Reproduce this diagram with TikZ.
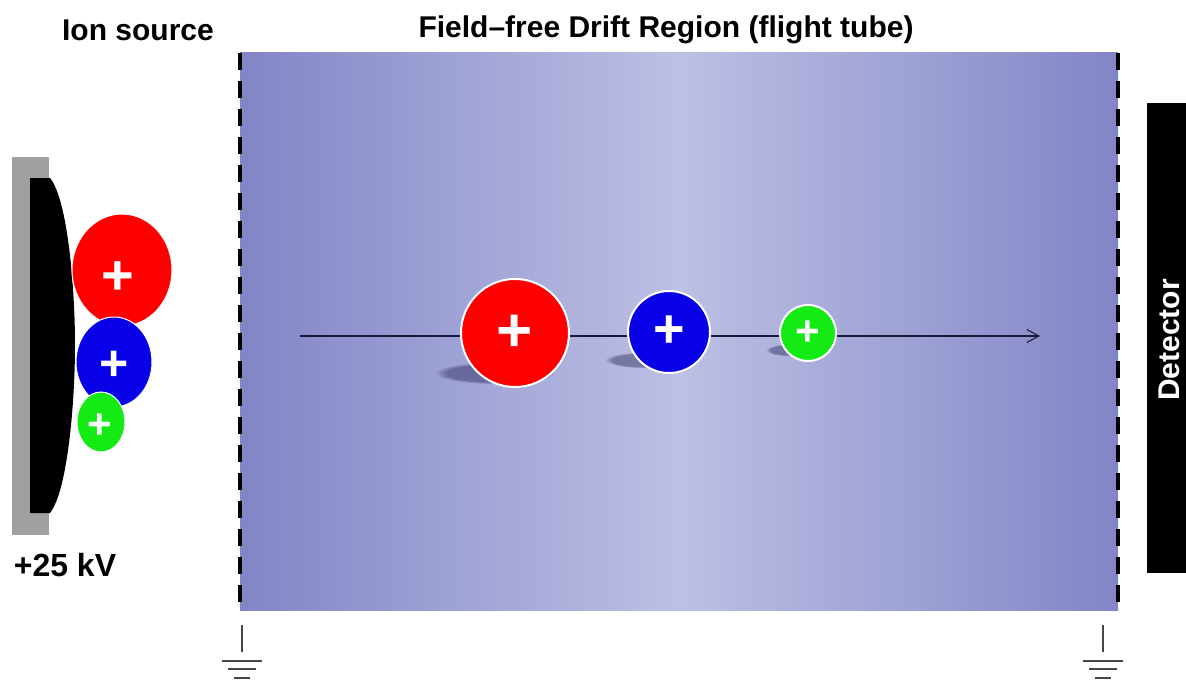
\documentclass[tikz,border=0pt]{standalone}
\usepackage{fontspec}
\setmainfont{Liberation Sans}
\usetikzlibrary{arrows.meta,fadings,shapes.geometric}
\definecolor{tubeedge}{RGB}{130,133,198}
\definecolor{tubemid}{RGB}{188,192,228}
\definecolor{ionred}{RGB}{255,0,0}
\definecolor{ionblue}{RGB}{8,0,230}
\definecolor{iongreen}{RGB}{20,235,20}
\definecolor{platecol}{RGB}{160,160,160}
\definecolor{gndcol}{RGB}{70,70,70}
\definecolor{pathcol}{RGB}{25,25,60}
\begin{document}
\begin{tikzpicture}[x=1pt,y=-1pt,
  lbl/.style={font=\fontsize{30}{32}\selectfont\bfseries, inner sep=0pt},
  pluslbl/.style={text=white, font=\fontsize{#1}{#1}\selectfont\bfseries},
  tubeion/.style={circle, draw=white, line width=2pt, inner sep=0pt, minimum size=#1},
  srcion/.style={ellipse, draw=white, line width=1pt, inner sep=0pt},
  shadowblob/.style={fill=black!80!blue, opacity=0.35, path fading=circle with fuzzy edge 20 percent},
  boundary/.style={line width=3.5pt, dash pattern=on 17pt off 11pt},
  ground/.pic={
    \draw[gndcol, line width=1.6pt] (0,0) -- (0,27);
    \draw[gndcol, line width=1.6pt] (-20,36) -- (20,36);
    \draw[gndcol, line width=1.6pt] (-14,44) -- (14,44);
    \draw[gndcol, line width=1.6pt] (-8,53) -- (8,53);
  }
]
\useasboundingbox (0,0) rectangle (1186,682);
\fill[white] (0,0) rectangle (1186,682);

% labels
\node[lbl] (ionsrc) at (138,30) {Ion source};
\node[lbl] (title) at (666,30) {Field–free Drift Region (flight tube)};
\node[lbl, font=\fontsize{32}{34}\selectfont\bfseries] (volt) at (65,565) {+25 kV};

% flight tube
\shade[left color=tubeedge, right color=tubeedge, middle color=tubemid] (240,53) rectangle (1118,610);
\draw[boundary] (240,53) -- (240,610);
\draw[boundary] (1118,53) -- (1118,610);

% grounds
\pic at (242,625) {ground};
\pic at (1103,625) {ground};

% ion source plate and electrode
\fill[platecol] (12,157) rectangle (49,535);
\fill[black] (30,178) -- (50,178) .. controls (68,200) and (75,290) .. (75,345)
  .. controls (75,400) and (68,490) .. (50,513) -- (30,513) -- cycle;

\node[srcion, fill=ionred, minimum width=100pt, minimum height=112pt] (sred) at (122,270) {};
\node[srcion, fill=ionblue, minimum width=76pt, minimum height=90pt] (sblue) at (114,362) {};
\node[srcion, fill=iongreen, minimum width=48pt, minimum height=60pt] (sgreen) at (101,422) {};
\node[pluslbl=56] at (118,278) {+};
\node[pluslbl=50] at (114,366) {+};
\node[pluslbl=42] at (100,426) {+};

% flight path
\coordinate (pstart) at (300,336);
\coordinate (pend) at (1040,336);
\draw[pathcol, line width=1.1pt, -{Straight Barb[length=12pt,width=13pt]}] (pstart) -- (pend);

% shadows
\fill[shadowblob] (495,373) ellipse [x radius=60, y radius=11];
\fill[shadowblob] (643,360) ellipse [x radius=38, y radius=8];
\fill[shadowblob] (788,350) ellipse [x radius=22, y radius=6];

% ions in the tube
\node[tubeion=108pt, fill=ionred] (tred) at (515,333) {};
\node[tubeion=82pt, fill=ionblue] (tblue) at (669,332) {};
\node[tubeion=56pt, fill=iongreen] (tgreen) at (808,333) {};
\node[pluslbl=62] at (tred.center) {+};
\node[pluslbl=54] at (tblue.center) {+};
\node[pluslbl=42] at (tgreen.center) {+};

% detector
\node[fill=black, minimum width=39pt, minimum height=470pt, inner sep=0pt] (det) at (1166.5,338) {};
\node[lbl, rotate=90, text=white] at (1169,340) {Detector};
\end{tikzpicture}
\end{document}
